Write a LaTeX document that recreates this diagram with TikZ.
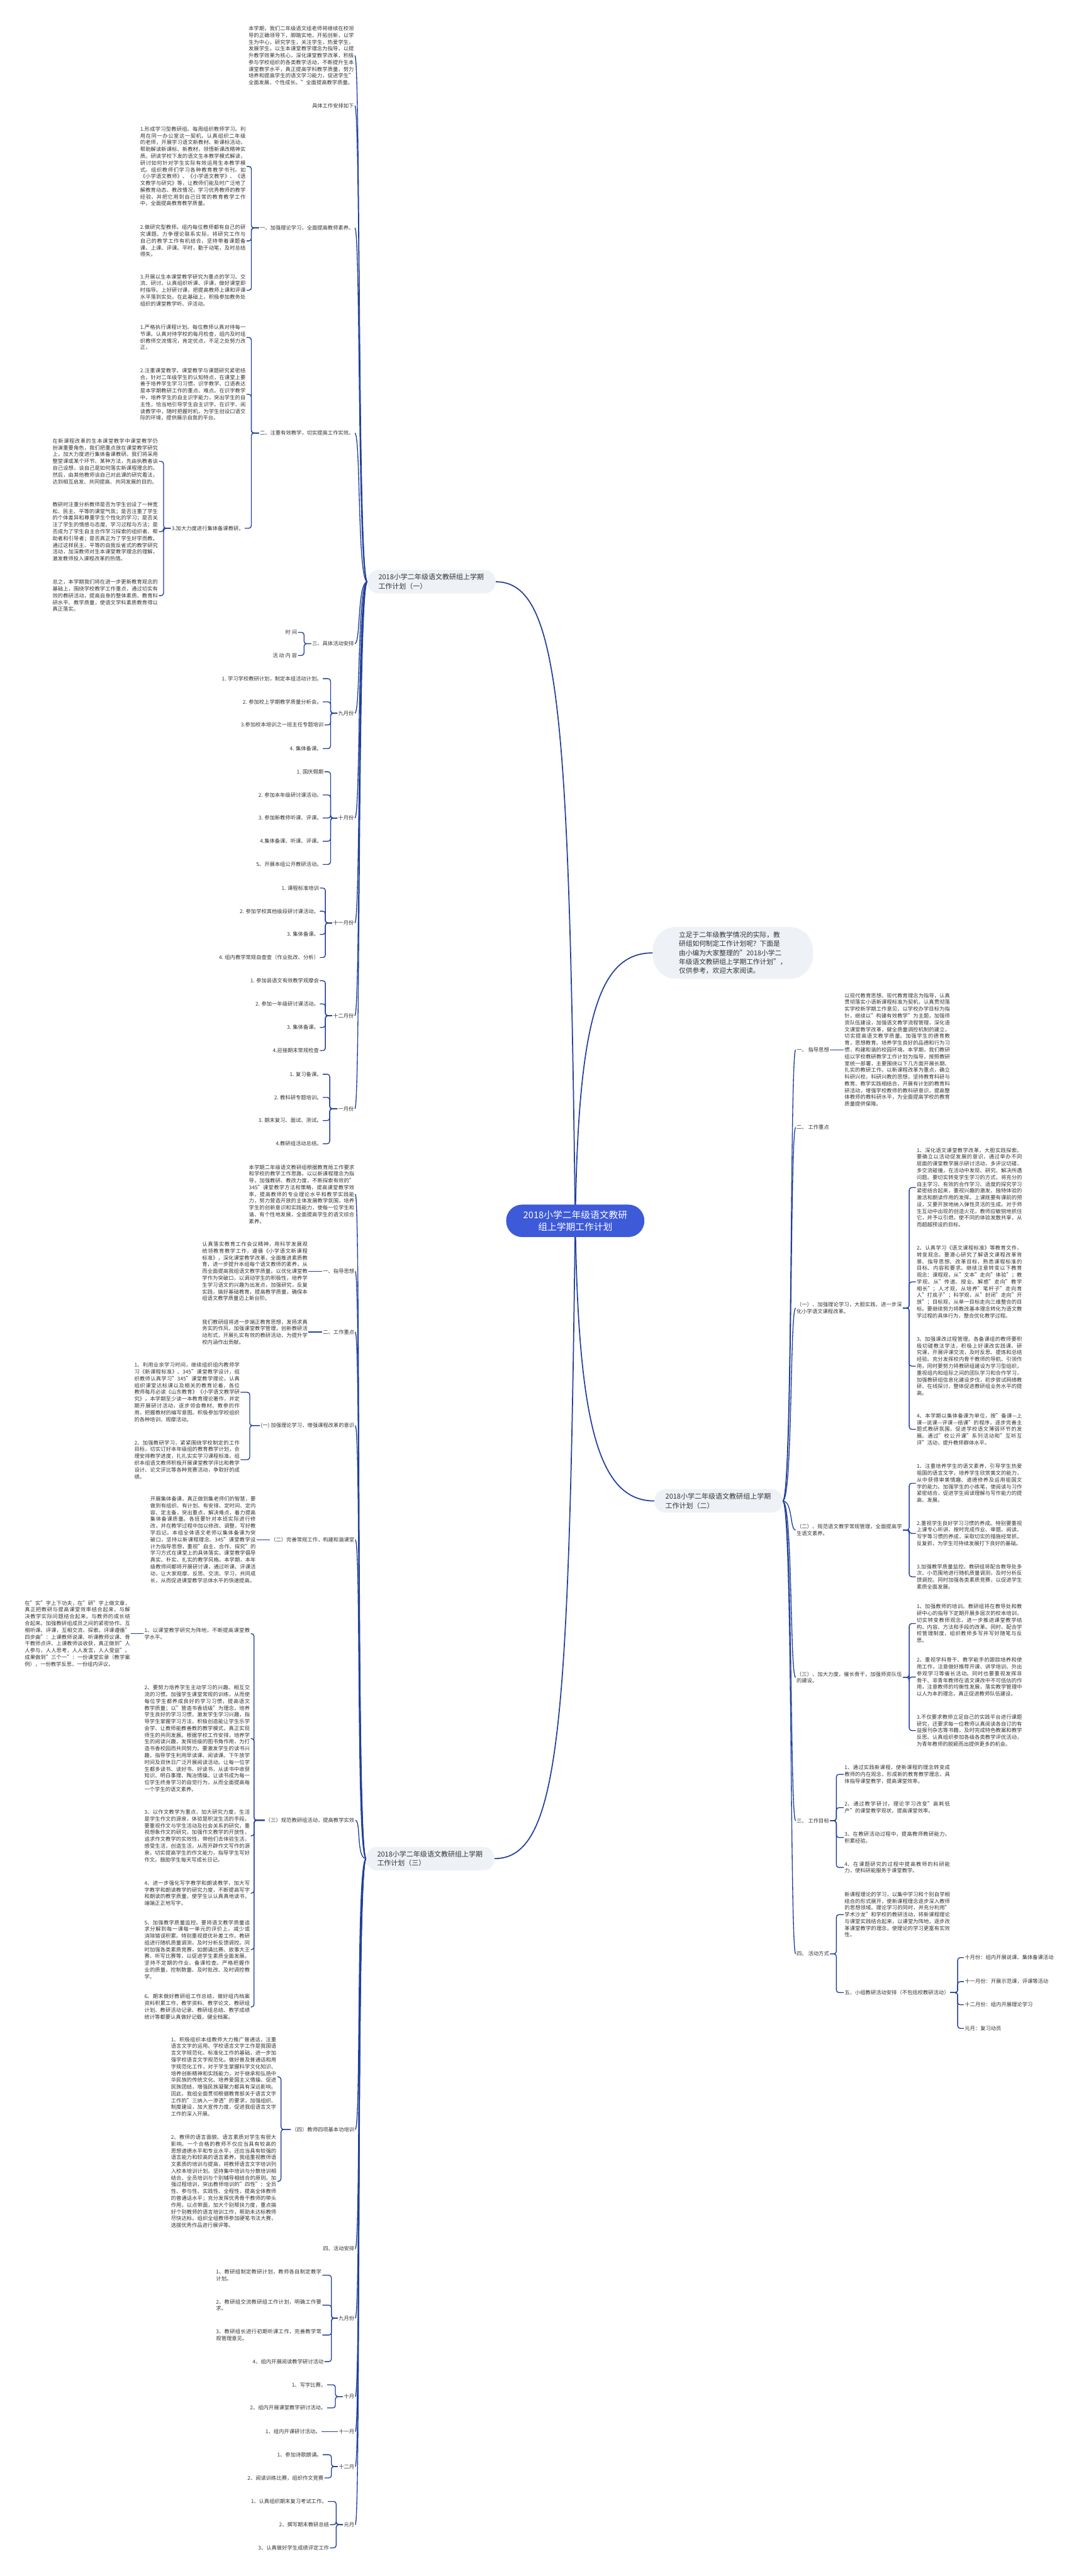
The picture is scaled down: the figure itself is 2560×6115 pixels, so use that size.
\documentclass[tikz,border=0pt]{standalone}
\usepackage{fontspec}
\setmainfont{Noto Sans CJK SC}
\usetikzlibrary{backgrounds}
\XeTeXlinebreaklocale "zh"
\XeTeXlinebreakskip=0pt plus 1pt
\definecolor{linkblue}{HTML}{22409A}
\definecolor{rootblue}{HTML}{3D5AD8}
\definecolor{boxfill}{HTML}{EEF1F5}
\definecolor{inkgray}{HTML}{333333}
\tikzset{
  txt/.style={font=\fontsize{12.4}{16.1}\selectfont, text=inkgray, inner sep=2pt},
  para/.style={txt, text width=250pt, align=justify},
  plan/.style={fill=boxfill, rounded corners=26pt, text=inkgray,
    font=\fontsize{16.4}{22}\selectfont, text width=252pt,
    inner xsep=26pt, inner ysep=9pt, align=left},
  link/.style={draw=linkblue, line width=2pt},
  brace/.style={link, rounded corners=6pt},
}
\begin{document}
\begin{tikzpicture}[x=1pt,y=-1pt]
\useasboundingbox (0,0) rectangle (2560,6115);

% centre and the four main branches
\node[fill=rootblue, text=white, rounded corners=38pt, font=\fontsize{22}{29}\selectfont,
  align=center, minimum width=328pt, minimum height=77pt] (root) at (1365,2898)
  {2018小学二年级语文教研\\组上学期工作计划};
\node[fill=boxfill, rounded corners=55pt, text=inkgray, font=\fontsize{16}{21.4}\selectfont,
  align=left, inner xsep=62pt, minimum height=123pt] (intro) at (1739,2262)
  {立足于二年级教学情况的实际，教\\研组如何制定工作计划呢？下面是\\由小编为大家整理的"2018小学二\\年级语文教研组上学期工作计划"，\\仅供参考，欢迎大家阅读。};
\node[plan] (plan1) at (1024,1381) {2018小学二年级语文教研组上学期工作计划（一）};
\node[plan] (plan2) at (1705,3563) {2018小学二年级语文教研组上学期工作计划（二）};
\node[plan] (plan3) at (1021,4412) {2018小学二年级语文教研组上学期工作计划（三）};

% ---- plan (一)
\node[para, anchor=east] (a0) at (842,132) {本学期，我们二年级语文组老师将继续在校领导的正确领导下，脚踏实地，开拓创新，以学生为中心，研究学生，关注学生，热爱学生，发展学生。以生本课堂教学理念为指导，以提升教学效果为核心，深化课堂教学改革，积极参与学校组织的各类教学活动，不断提升生本课堂教学水平，真正提高学科教学质量，努力培养和提高学生的语文学习能力，促进学生"全面发展、个性成长。"全面提高教学质量。};
\node[txt, anchor=east] (a1) at (842,251) {具体工作安排如下};
\node[txt, anchor=east] (a2) at (842,541) {一、加强理论学习，全面提高教师素养。};
\node[para, anchor=east] (a21) at (585,395) {1.形成学习型教研组。每周组织教师学习。利用在同一办公室这一契机，认真组织二年级的老师，开展学习语文新教材、新课标活动，帮助解读新课标、新教材，领悟新课改精神实质。研读学校下发的语文生本教学模式解读，研讨如何针对学生实际有效运用生本教学模式。组织教师们学习各种教育教学书刊，如《小学语文教师》、《小学语文教学》、《语文教学与研究》等，让教师们能及时广泛地了解教育动态、教改情况，学习优秀教师的教学经验，并把它用到自己日常的教育教学工作中，全面提高教育教学质量。};
\node[para, anchor=east] (a22) at (585,572) {2.做研究型教师。组内每位教师都有自己的研究课题。力争理论联系实际，将研究工作与自己的教学工作有机结合，坚持带着课题备课、上课、评课。平时，勤于动笔，及时总结得失。};
\node[para, anchor=east] (a23) at (585,689) {3.开展以生本课堂教学研究为重点的学习、交流、研讨。认真组织听课、评课，做好课堂即时指导。上好研讨课，把提高教师上课和评课水平落到实处。在此基础上，积极参加教务处组织的课堂教学听、评活动。};
\node[txt, anchor=east] (a3) at (842,1028) {二、注重有效教学，切实提高工作实效。};
\node[para, anchor=east] (a31) at (585,801) {1.严格执行课程计划。每位教师认真对待每一节课。认真对待学校的每月检查，组内及时组织教师交流情况，肯定优点，不足之处努力改正，};
\node[para, anchor=east] (a32) at (585,936) {2.注重课堂教学。课堂教学与课题研究紧密结合，针对二年级学生的认知特点，在课堂上要善于培养学生学习习惯，识字教学、口语表达是本学期教研工作的重点、难点。在识字教学中，培养学生的自主识字能力，突出学生的自主性，恰当地引导学生自主识字。在识字、阅读教学中，随时把握时机，为学生创设口语交际的环境，提供展示自我的平台。};
\node[txt, anchor=east] (a33) at (581,1254) {3.加大力度进行集体备课教研。};
\node[para, anchor=east] (a331) at (377,1095) {在新课程改革的生本课堂教学中课堂教学仍扮演重要角色，我们把重点放在课堂教学研究上，加大力度进行集体备课教研。我们将采用整堂课或某个环节、某种方法，先由执教者谈自己设想，谈自己是如何落实新课程理念的。然后，由其他教师谈自己对此课的研究看法，达到相互启发、共同提高、共同发展的目的。};
\node[para, anchor=east] (a332) at (377,1262) {教研时注重分析教师是否为学生创设了一种宽松、民主、平等的课堂气氛；是否注重了学生的个体差异和尊重学生个性化的学习；是否关注了学生的情感与态度、学习过程与方法；是否成为了学生自主合作学习探索的组织者、帮助者和引导者；是否真正为了学生好学而教。通过这样民主、平等的自我反省式的教学研究活动，加深教师对生本课堂教学理念的理解，激发教师投入课程改革的热情。};
\node[para, anchor=east] (a333) at (377,1414) {总之，本学期我们将在进一步更新教育观念的基础上，围绕学校教学工作重点，通过切实有效的教研活动，提高自身的整体素质、教育科研水平、教学质量，使语文学科素质教育得以真正落实。};
\node[txt, anchor=east] (a4) at (842,1528) {三、具体活动安排};
\node[txt, anchor=east] (a41) at (707,1501) {时 间};
\node[txt, anchor=east] (a42) at (707,1556) {活 动 内 容};

\node[txt, anchor=east] (m9) at (842,1693) {九月份};
\node[txt, anchor=east] (m9a) at (766,1611) {1. 学习学校教研计划，制定本组活动计划。};
\node[txt, anchor=east] (m9b) at (766,1666) {2. 参加校上学期教学质量分析会。};
\node[txt, anchor=east] (m9c) at (770,1721) {3.参加校本培训之一班主任专题培训};
\node[txt, anchor=east] (m9d) at (766,1777) {4. 集体备课。};
\node[txt, anchor=east] (m10) at (842,1942) {十月份};
\node[txt, anchor=east] (m10a) at (770,1832) {1. 国庆假期};
\node[txt, anchor=east] (m10b) at (766,1887) {2. 参加本年级研讨课活动。};
\node[txt, anchor=east] (m10c) at (766,1942) {3. 参加新教师听课、评课。};
\node[txt, anchor=east] (m10d) at (766,1997) {4.集体备课、听课、评课。};
\node[txt, anchor=east] (m10e) at (766,2052) {5、开展本组公开教研活动。};
\node[txt, anchor=east] (m11) at (842,2191) {十一月份};
\node[txt, anchor=east] (m11a) at (759,2108) {1. 课程标准培训};
\node[txt, anchor=east] (m11b) at (759,2163) {2. 参加学校其他级段研讨课活动。};
\node[txt, anchor=east] (m11c) at (759,2218) {3. 集体备课。};
\node[txt, anchor=east] (m11d) at (759,2273) {4. 组内教学常规自查查（作业批改、分析）};
\node[txt, anchor=east] (m12) at (842,2411) {十二月份};
\node[txt, anchor=east] (m12a) at (759,2328) {1. 参加县语文有效教学观摩会};
\node[txt, anchor=east] (m12b) at (759,2383) {2. 参加一年级研讨课活动。};
\node[txt, anchor=east] (m12c) at (759,2439) {3. 集体备课。};
\node[txt, anchor=east] (m12d) at (759,2494) {4.迎接期末常规检查};
\node[txt, anchor=east] (m1) at (842,2632) {一月份};
\node[txt, anchor=east] (m1a) at (766,2550) {1. 复习备课。};
\node[txt, anchor=east] (m1b) at (766,2605) {2. 教科研专题培训。};
\node[txt, anchor=east] (m1c) at (766,2660) {3. 期末复习、面试、测试。};
\node[txt, anchor=east] (m1d) at (766,2715) {4.教研组活动总结。};

% ---- plan (二)
\node[txt, anchor=west] (b1) at (1888,2492) {一、 指导思想};
\node[para, anchor=west] (b1p) at (2002,2492) {以现代教育思想、现代教育理念为指导，认真贯彻落实小语新课程标准为契机，认真贯彻落实学校新学期工作意见，以学校办学目标为指针，继续以"构建有效教学"为主题，加强师资队伍建设，加强语文教学流程管理，深化语文课堂教学改革，健全质量调控机制的建立，切实提高语文教学质量。加强学生的德育教育，思想教育。培养学生良好的品德和行为习惯，构建和谐的校园环境。本学期，我们教研组以学校教研教学工作计划为指导，按照教研室统一部署，主要围绕以下几方面开展长期、扎实的教研工作。以新课程改革为重点，确立科研兴校，科研兴教的思想，坚持教育科研与教育、教学实践相结合，开展有计划的教育科研活动，增强学校教师的教科研意识，提高整体教师的教科研水平，为全面提高学校的教育质量提供保障。};
\node[txt, anchor=west] (b2) at (1888,2676) {二、 工作重点};
\node[para, anchor=west] (b3) at (1888,3105) {（一）、加强理论学习，大胆实践，进一步深化小学语文课程改革。};
\node[para, anchor=west] (b31) at (2173,2819) {1、深化语文课堂教学改革，大胆实践探索。要确立以活动促发展的意识，通过举办不同层面的课堂教学展示研讨活动，多评议切磋，多交流碰撞，在活动中发现、研究、解决所遇问题。要切实转变学生学习的方式，将充分的自主学习、有效的合作学习、适度的探究学习紧密结合起来，重视兴趣的激发、独特体验的激活和朗读作用的发挥。上课既要有课前的预设，又要开放地纳入弹性灵活的生成。对于师生互动中出现的创造火花，教师应敏锐地抓住它，并予以引燃，使不同的体验发散共享，从而超越预设的目标。};
\node[para, anchor=west] (b32) at (2173,3043) {2、认真学习《语文课程标准》等教育文件，转变观念。要潜心研究了解语文课程改革背景、指导思想、改革目标，熟悉课程标准的目标、内容和要求。继续注意转变以下教育观念：课程观，从"文本"走向"体验"；教学观，从"传道、授业、解惑"走向"教学相长"；人才观，从培养"笔杆子"走向育人"打底子"；科学观，从"封闭"走向"开放"；目标观，从单一目标走向三维整合的目标。要继续努力将教改基本理念转化为语文教学过程的具体行为，整合优化教学过程。};
\node[para, anchor=west] (b33) at (2173,3243) {3、加强课改过程管理。各备课组的教师要积极切磋教法学法，积极上好课改实践课、研究课，开展评课交流，及时反思、提炼和总结经验。充分发挥校内骨干教师的导航、引领作用，同时要努力将教研组建设为学习型组织，重视组内和组际之间的团队学习和合作学习，加强教研组信息化建设步伐，初步尝试网络教研、在线探讨，整体促进教研组业务水平的提高。};
\node[para, anchor=west] (b34) at (2173,3393) {4、本学期以集体备课为单位，按"备课—上课—说课—评课—结课"的程序，逐步完善主题式教研氛围，促进学校语文薄弱环节的发展。通过"校公开课"系列活动和"互听互评"活动，提升教师群体水平。};
\node[para, anchor=west] (b4) at (1888,3632) {（二）、规范语文教学常规管理，全面提高学生语文素养。};
\node[para, anchor=west] (b41) at (2173,3521) {1、注重培养学生的语文素养，引导学生热爱祖国的语言文字，培养学生欣赏美文的能力，从中获得审美情趣、道德修养及运用祖国文字的能力。加强学生的小练笔，使阅读与习作紧密结合，促进学生阅读理解与写作能力的提高、发展。};
\node[para, anchor=west] (b42) at (2173,3640) {2.重视学生良好学习习惯的养成。特别要重视上课专心听讲、按时完成作业、审题、阅读、写字等习惯的养成，采取切实的措施经常抓，反复抓，为学生可持续发展打下良好的基础。};
\node[para, anchor=west] (b43) at (2173,3743) {3.加强教学质量监控。教研组将配合教导处多次、小范围地进行随机质量调测，及时分析反馈调控。同时加强各类素质竞赛，以促进学生素质全面发展。};
\node[para, anchor=west] (b5) at (1888,3982) {（三）、加大力度，催长骨干，加强师资队伍的建设。};
\node[para, anchor=west] (b51) at (2173,3854) {1、加强教师的培训。教研组将在教导处和教研中心的指导下定期开展多层次的校本培训，切实转变教师观念，进一步推进课堂教学结构、内容、方法和手段的改革。同时，配合学校管理制度，组织教师多写并写好随笔与反思。};
\node[para, anchor=west] (b52) at (2173,3981) {2、重视学科骨干、教学能手的跟踪培养和使用工作，注意做好推荐开课、讲学培训、外出参观学习等催长活动。同时也要重视发挥非骨干、非青年教师在语文课改中不可低估的作用，注意教师的均衡性发展，落实教学管理中以人为本的理念，真正促进教师队伍建设。};
\node[para, anchor=west] (b53) at (2173,4108) {3.不仅要求教师立足自己的实践平台进行课题研究，还要求每一位教师认真阅读各自订的有益报刊杂志等书籍，及时完成特色教案和教学反思。认真组织参加各级各类教学评优活动，为青年教师的脱颖而出提供更多的机会。};
\node[txt, anchor=west] (b6) at (1888,4322) {三、 工作目标};
\node[para, anchor=west] (b61) at (2002,4212) {1、通过实践新课程，使新课程的理念转变成教师的内在观念，形成新的教育教学理念，具体指导课堂教学，提高课堂效率。};
\node[para, anchor=west] (b62) at (2002,4291) {2、通过教学研讨，理论学习改变"高耗低产"的课堂教学现状，提高课堂效率。};
\node[para, anchor=west] (b63) at (2002,4362) {3、在教研活动过程中，提高教师教研能力，积累经验。};
\node[para, anchor=west] (b64) at (2002,4433) {4、在课题研究的过程中提高教师的科研能力，使科研能服务于课堂教学。};
\node[txt, anchor=west] (b7) at (1888,4638) {四、 活动方式};
\node[para, anchor=west] (b71) at (2002,4545) {新课程理论的学习，以集中学习和个别自学相结合的形式展开，使新课程理念逐步深入教师的思想领域。理论学习的同时，并充分利用"学术沙龙"和学校的教研活动，将新课程理论与课堂实践结合起来，以课堂为阵地，逐步改革课堂教学的理念，使理论的学习更富有实效性。};
\node[txt, anchor=west] (b72) at (2002,4730) {五、小组教研活动安排（不包括校教研活动）};
\node[txt, anchor=west] (b72a) at (2287,4647) {十月份：组内开展说课、集体备课活动};
\node[txt, anchor=west] (b72b) at (2287,4704) {十一月份：开展示范课，评课等活动};
\node[txt, anchor=west] (b72c) at (2287,4759) {十二月份：组内开展理论学习};
\node[txt, anchor=west] (b72d) at (2287,4815) {元月：复习动员};

% ---- plan (三)
\node[para, anchor=east] (c0) at (843,2835) {本学期二年级语文教研组根据教育局工作要求和学校的教学工作思路，以以新课程理念为指导，加强教研、教改力度，不断探索有效的"345"课堂教学方法和策略，提高课堂教学效率，提高教师的专业理论水平和教学实践能力，努力营造开放的主体发展教学氛围，培养学生的创新意识和实践能力，使每一位学生和谐、有个性地发展，全面提高学生的语文综合素养。};
\node[txt, anchor=east] (c1) at (843,3018) {一、指导思想};
\node[para, anchor=east] (c1p) at (732,3018) {认真落实教育工作会议精神，用科学发展观统领教育教学工作，遵循《小学语文新课程标准》，深化课堂教学改革，全面推进素质教育，进一步提升本组每个语文教师的素养，从而全面提高我组语文教学质量。以优化课堂教学作为突破口，以调动学生的积极性，培养学生学习语文的兴趣为出发点，加强研究，反复实践，搞好基础教育，提高教学质量，确保本组语文教学质量迈上新台阶。};
\node[txt, anchor=east] (c2) at (843,3162) {二、工作重点};
\node[para, anchor=east] (c2p) at (732,3162) {我们教研组将进一步端正教育思想，发扬求真务实的作风，加强课堂教学管理，创新教研活动形式，开展扎实有效的教研活动，为提升学校内涵作出贡献。};
\node[txt, anchor=east] (c3) at (843,3384) {(一) 加强理论学习，增强课程改革的意识};
\node[para, anchor=east] (c31) at (571,3305) {1、利用业余学习时间，继续组织组内教师学习《新课程标准》、345"课堂教学设计，组织教师认真学习"345"课堂教学理论，认真组织课堂达标课以及相关的教育论着，各位教师每月必读《山东教育》《小学语文教学研究》，本学期至少读一本教育理论著作，并定期开展研讨活动，逐步领会教材、教参的作用，把握教材的编写意图。积极参加学校组织的各种培训、观摩活动。};
\node[para, anchor=east] (c32) at (571,3465) {2、加强教研学习，紧紧围绕学校制定的工作目标，切实订好本年级组的教育教学计划，合理安排教学进度，扎扎实实学习课程标准。组织本组语文教师积极开展课堂教学评比和教学设计、论文评比等各种竞赛活动，争取好的成绩。};
\node[txt, anchor=east] (c4) at (843,3655) {（二）完善常规工作，构建和谐课堂};
\node[para, anchor=east] (c4p) at (609,3655) {开展集体备课，真正做到集老师们的智慧，要做到有组织、有计划、有安排、定时间、定内容、定主备，突出重点，解决难点，着力提高集体备课质量。各班要针对本班实际进行修改，并在教学过程中加以修改、调整，写好教学后记。本组全体语文老师以集体备课为突破口，坚持以新课程理念、345"课堂教学设计为指导思想，重视"自主、合作、探究"的学习方式在课堂上的具体落实。课堂教学倡导真实、朴实、扎实的教学风格。本学期，本年级教师间都将开展研讨课，通过听课、评课活动，让大家观摩、反思、交流、学习，共同成长，从而促进课堂教学总体水平的快速提高。};
\node[txt, anchor=east] (c5) at (843,4321) {（三）规范教研组活动，提高教学实效};
\node[para, anchor=east] (c51) at (595,3878) {1、以课堂教学研究为阵地，不断提高课堂教学水平。};
\node[para, anchor=east] (c51p) at (311,3878) {在"实"字上下功夫，在"研"字上做文章，真正把教研与提高课堂效率结合起来，与解决教学实际问题结合起来，与教师的成长结合起来。加强教研组成员之间的紧密协作。互相听课、评课，互相交流、探索。评课遵循"四步曲"：上课教师说课、听课教师议课、骨干教师点评、上课教师谈收获，真正做到"人人参与，人人思考，人人发言，人人受益"。成果做到"三个一"：一份课堂实录（教学案例），一份教学反思，一份组内评议。};
\node[para, anchor=east] (c52) at (595,4127) {2、要努力培养学生主动学习的兴趣、相互交流的习惯。加强学生课堂常规的训练，从而使每位学生都养成良好的学习习惯，提高语文教学质量；以"营造书香班级"为理念，培养学生良好的学习习惯，激发学生学习兴趣，指导学生掌握学习方法，积极创造能让学生乐学会学、让教师能教善教的教学模式，真正实现师生的共同发展。根据学校工作安排，培养学生的阅读兴趣，发挥班级的图书角作用，为打造书香校园而共同努力。要激发学生的读书兴趣，指导学生利用早读课、阅读课、下午放学时间及双休日广泛开展阅读活动。让每一位学生都多读书、读好书、好读书，从读书中收获知识、明白事理、陶冶情操。让读书成为每一位学生终身学习的自觉行为，从而全面提高每一个学生的语文素养。};
\node[para, anchor=east] (c53) at (595,4358) {3、以作文教学为重点，加大研究力度，生活是学生作文的源泉，体验是积淀生活的手段。要重视作文与学生活动及社会关系的研究，重视想象作文的研究，加强作文教学的开放性，追求作文教学的实效性，带他们去体验生活，感受生活，创造生活，从而开辟作文写作的源泉，切实提高学生的作文能力，指导学生写好作文。鼓励学生每天写成长日记。};
\node[para, anchor=east] (c54) at (595,4494) {4、进一步强化写字教学和朗读教学，加大写字教学和朗读教学的研究力度，不断提高写字和朗读的教学质量，使学生认认真真地读书，端端正正地写字。};
\node[para, anchor=east] (c55) at (595,4628) {5、加强教学质量监控。要将语文教学质量追求分解到每一课每一单元的评价上，减少或消除错误积累。特别重视提优补差工作。教研组进行随机质量调测，及时分析反馈调控。同时加强各类素质竞赛，如朗诵比赛、故事大王赛、听写比赛等，以促进学生素质全面发展。坚持不定期的作业、备课检查。严格把握作业的质量，控制数量、及时批改、及时调控教学。};
\node[para, anchor=east] (c56) at (595,4764) {6、期末做好教研组工作总结，做好组内档案资料积累工作，教学资料、教学论文、教研组计划、教研活动记录、教研组总结、教学成绩统计等都要认真做好记载，健全档案。};
\node[txt, anchor=east] (c6) at (843,5055) {（四）教师四项基本功培训};
\node[para, anchor=east] (c61) at (658,4930) {1、积极组织本组教师大力推广普通话，注重语言文字的运用。学校语言文字工作是我国语言文字规范化、标准化工作的基础，进一步加强学校语言文字规范化。做好普及普通话和用字规范化工作，对于学生掌握科学文化知识、培养创新精神和实践能力，对于继承和弘扬中华民族的传统文化、培养爱国主义情操、促进民族团结，增强民族凝聚力都具有深远影响。因此，我组全面贯彻根据教育部关于语言文字工作的"三纳入一渗透"的要求，加强组织、制度建设，加大宣传力度，促进我组语言文字工作的深入开展。};
\node[para, anchor=east] (c62) at (658,5178) {2、教师的语言面貌、语言素质对学生有很大影响。一个合格的教师不仅应当具有较高的思想道德水平和专业水平，还应当具有较强的语言能力和较高的语言素养。我组重视教师语文素质的培训与提高，将教师语言文字培训列入校本培训计划。坚持集中培训与分散培训相结合、全员培训与个别辅导相结合的原则。加强过程培训，突出教师培训的"四性"：全员性、参与性、实践性、全程性，提高全体教师的普通话水平；充分发挥优秀骨干教师的带头作用，以点带面，加大个别帮扶力度，重点搞好个别教师的语言培训工作，帮助未达标教师尽快达标。组织全组教师参加硬笔书法大赛，选拔优秀作品进行展评等。};
\node[txt, anchor=east] (c7) at (843,5338) {四、活动安排};
\node[txt, anchor=east] (c8) at (843,5503) {九月份};
\node[para, anchor=east] (c81) at (765,5401) {1、教研组制定教研计划，教师各自制定教学计划。};
\node[para, anchor=east] (c82) at (765,5472) {2、教研组交流教研组工作计划，明确工作要求。};
\node[para, anchor=east] (c83) at (765,5543) {3、教研组长进行初期听课工作，完善教学常规管理意见。};
\node[txt, anchor=east] (c84) at (770,5606) {4、组内开展阅读教学研讨活动};
\node[txt, anchor=east] (c9) at (843,5689) {十月};
\node[txt, anchor=east] (c91) at (776,5661) {1、写字比赛。};
\node[txt, anchor=east] (c92) at (776,5716) {2、组内开展课堂教学研讨活动。};
\node[txt, anchor=east] (c10) at (843,5772) {十一月};
\node[txt, anchor=east] (c101) at (763,5772) {1、组内开课研讨活动。};
\node[txt, anchor=east] (c11) at (843,5855) {十二月};
\node[txt, anchor=east] (c111) at (766,5827) {1、参加诗歌朗诵。};
\node[txt, anchor=east] (c112) at (770,5882) {2、阅读训练比赛，组织作文竞赛};
\node[txt, anchor=east] (c12) at (843,5993) {元月};
\node[txt, anchor=east] (c121) at (778,5938) {1、认真组织期末复习考试工作。};
\node[txt, anchor=east] (c122) at (783,5993) {2、撰写期末教研总结};
\node[txt, anchor=east] (c123) at (783,6048) {3、认真做好学生成绩评定工作};

% connectors behind the boxes
\begin{scope}[on background layer]
\fill[white] (0,0) rectangle (2560,6115);
\draw[link, line width=2.6pt] (root.center) .. controls (1350,1700) and (1330,1381) .. (plan1.east);
\draw[link, line width=2.6pt] (root.center) .. controls (1372,2420) and (1420,2262) .. (intro.west);
\draw[link, line width=2.6pt] (root.center) .. controls (1372,3380) and (1420,3563) .. (plan2.west);
\draw[link, line width=2.6pt] (root.center) .. controls (1350,4100) and (1330,4412) .. (plan3.east);

\foreach \c in {a0,a1,a2,a3,a4,m9,m10,m11,m12,m1}
  \draw[link] (plan1.west) .. controls +(-24,0) and +(14,0) .. (\c.east);
\foreach \c in {a21,a22,a23} \draw[brace] (a2.west) -- ++(-18,0) |- (\c.east);
\foreach \c in {a31,a32,a33} \draw[brace] (a3.west) -- ++(-18,0) |- (\c.east);
\foreach \c in {a331,a332,a333} \draw[brace] (a33.west) -- ++(-17,0) |- (\c.east);
\foreach \c in {a41,a42} \draw[brace] (a4.west) -- ++(-17,0) |- (\c.east);
\foreach \c in {m9a,m9b,m9c,m9d} \draw[brace] (m9.west) -- ++(-16,0) |- (\c.east);
\foreach \c in {m10a,m10b,m10c,m10d,m10e} \draw[brace] (m10.west) -- ++(-16,0) |- (\c.east);
\foreach \c in {m11a,m11b,m11c,m11d} \draw[brace] (m11.west) -- ++(-16,0) |- (\c.east);
\foreach \c in {m12a,m12b,m12c,m12d} \draw[brace] (m12.west) -- ++(-16,0) |- (\c.east);
\foreach \c in {m1a,m1b,m1c,m1d} \draw[brace] (m1.west) -- ++(-18,0) |- (\c.east);

\foreach \c in {b1,b2,b3,b4,b5,b6,b7}
  \draw[link] (plan2.east) .. controls +(24,0) and +(-14,0) .. (\c.west);
\draw[link] (b1.east) -- (b1p.west);
\foreach \c in {b31,b32,b33,b34} \draw[brace] (b3.east) -- ++(15,0) |- (\c.west);
\foreach \c in {b41,b42,b43} \draw[brace] (b4.east) -- ++(15,0) |- (\c.west);
\foreach \c in {b51,b52,b53} \draw[brace] (b5.east) -- ++(15,0) |- (\c.west);
\foreach \c in {b61,b62,b63,b64} \draw[brace] (b6.east) -- ++(15,0) |- (\c.west);
\foreach \c in {b71,b72} \draw[brace] (b7.east) -- ++(15,0) |- (\c.west);
\foreach \c in {b72a,b72b,b72c,b72d} \draw[brace] (b72.east) -- ++(18,0) |- (\c.west);

\foreach \c in {c0,c1,c2,c3,c4,c5,c6,c7,c8,c9,c10,c11,c12}
  \draw[link] (plan3.west) .. controls +(-24,0) and +(14,0) .. (\c.east);
\draw[link] (c1.west) -- (c1p.east);
\draw[link] (c2.west) -- (c2p.east);
\foreach \c in {c31,c32} \draw[brace] (c3.west) -- ++(-24,0) |- (\c.east);
\draw[link] (c4.west) -- (c4p.east);
\foreach \c in {c51,c52,c53,c54,c55,c56} \draw[brace] (c5.west) -- ++(-25,0) |- (\c.east);
\draw[link] (c51.west) -- (c51p.east);
\foreach \c in {c61,c62} \draw[brace] (c6.west) -- ++(-23,0) |- (\c.east);
\foreach \c in {c81,c82,c83,c84} \draw[brace] (c8.west) -- ++(-15,0) |- (\c.east);
\foreach \c in {c91,c92} \draw[brace] (c9.west) -- ++(-18,0) |- (\c.east);
\draw[link] (c10.west) -- (c101.east);
\foreach \c in {c111,c112} \draw[brace] (c11.west) -- ++(-15,0) |- (\c.east);
\foreach \c in {c121,c122,c123} \draw[brace] (c12.west) -- ++(-16,0) |- (\c.east);
\end{scope}
\end{tikzpicture}
\end{document}
